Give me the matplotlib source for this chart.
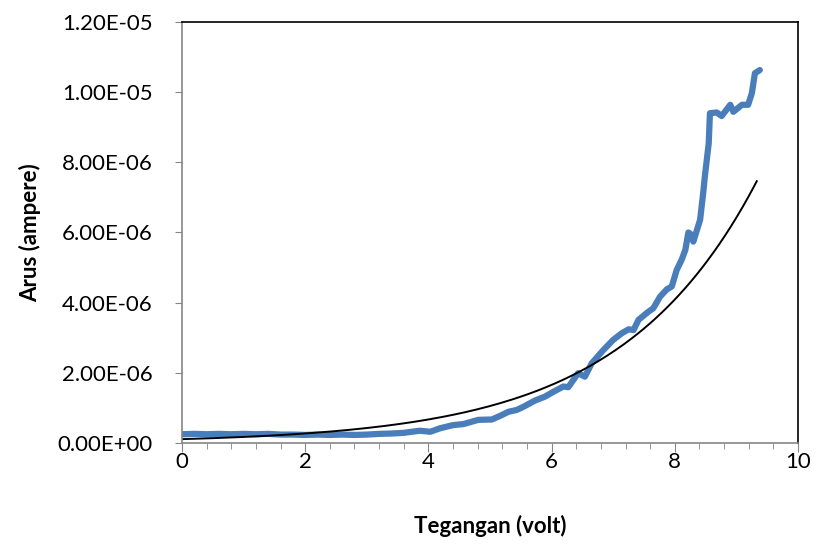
import numpy as np
import matplotlib.pyplot as plt
from matplotlib.ticker import MultipleLocator, FuncFormatter

# data arus terukur (x: volt, y: 1e-6 ampere)
tegangan = [0.0, 0.2, 0.4, 0.6, 0.8, 1.0, 1.2, 1.4, 1.6, 1.8, 2.0, 2.2, 2.4, 2.6, 2.8,
            3.0, 3.2, 3.4, 3.6, 3.86, 4.03, 4.19, 4.40, 4.57, 4.81, 5.03, 5.16, 5.30,
            5.43, 5.54, 5.73, 5.89, 6.03, 6.19, 6.27, 6.43, 6.54, 6.65, 6.84, 7.00,
            7.14, 7.25, 7.33, 7.41, 7.57, 7.65, 7.76, 7.87, 7.95, 8.03, 8.11, 8.17,
            8.22, 8.26, 8.30, 8.41, 8.46, 8.49, 8.55, 8.57, 8.68, 8.76, 8.90, 8.95,
            9.09, 9.19, 9.25, 9.30, 9.38]
arus_u = [0.25, 0.26, 0.25, 0.26, 0.25, 0.26, 0.25, 0.26, 0.24, 0.24, 0.23, 0.24, 0.23,
          0.24, 0.23, 0.24, 0.26, 0.27, 0.29, 0.35, 0.32, 0.42, 0.51, 0.54, 0.66, 0.67,
          0.77, 0.89, 0.94, 1.03, 1.21, 1.32, 1.46, 1.61, 1.59, 1.99, 1.89, 2.27, 2.65,
          2.94, 3.13, 3.24, 3.22, 3.51, 3.74, 3.84, 4.17, 4.38, 4.46, 4.93, 5.22, 5.50,
          6.00, 5.95, 5.74, 6.36, 7.12, 7.64, 8.54, 9.40, 9.42, 9.32, 9.64, 9.44, 9.64,
          9.64, 9.97, 10.54, 10.63]

# trendline eksponensial: y = a * exp(b x)
trend_a = 1.1e-7
trend_b = 0.452
trend_xmax = 9.33

arus = np.array(arus_u) * 1e-6
xt = np.linspace(0, trend_xmax, 200)
yt = trend_a * np.exp(trend_b * xt)

plt.rcParams['font.family'] = ['Lato', 'DejaVu Sans']

fig = plt.figure(figsize=(8.16, 5.48), dpi=100)
ax = fig.add_axes([0.223, 0.1916, 0.755, 0.7683])

ax.plot(tegangan, arus, color='#4a7ebb', lw=4.5, solid_capstyle='round', solid_joinstyle='round')
ax.plot(xt, yt, color='black', lw=1.4)

ax.set_xlim(0, 10)
ax.set_ylim(0, 1.2e-5)
ax.xaxis.set_major_locator(MultipleLocator(2))
ax.xaxis.set_minor_locator(MultipleLocator(0.4))
ax.yaxis.set_major_locator(MultipleLocator(2e-6))
ax.yaxis.set_major_formatter(FuncFormatter(lambda v, p: '%.2E' % v))

for s in ['left', 'bottom']:
    ax.spines[s].set_color('#868686')
    ax.spines[s].set_linewidth(1.2)
for s in ['top', 'right']:
    ax.spines[s].set_color('black')
    ax.spines[s].set_linewidth(1.2)

ax.tick_params(axis='both', which='major', direction='out', color='#868686', labelsize=16)
ax.tick_params(axis='x', which='major', length=6.5, pad=0)
ax.tick_params(axis='x', which='minor', length=4.3, color='#868686')
ax.tick_params(axis='y', which='major', length=5, pad=16)

ax.set_xlabel('Tegangan (volt)', fontsize=16, fontweight='bold', labelpad=31)
ax.set_ylabel('Arus (ampere)', fontsize=16, fontweight='bold', labelpad=12)

plt.savefig('out.png', dpi=100)
